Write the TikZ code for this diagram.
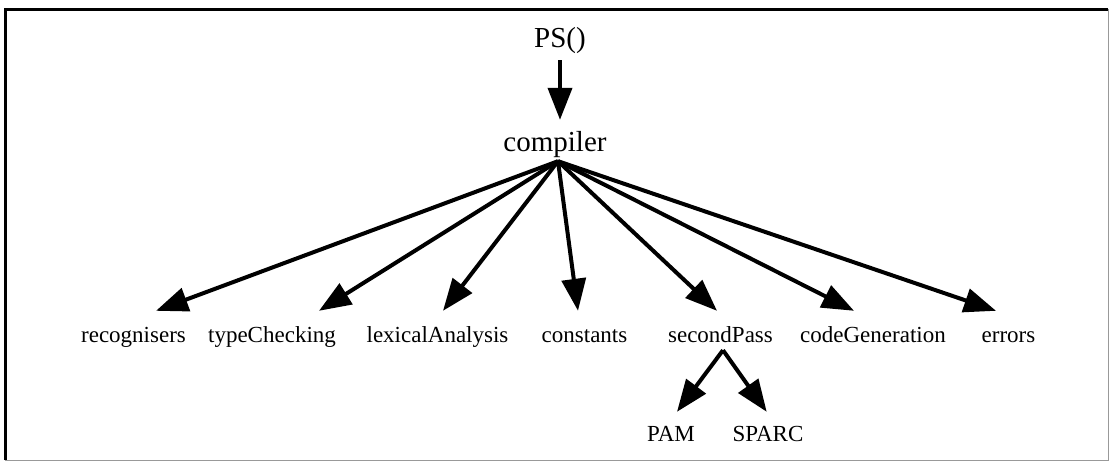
\documentclass[tikz,border=0pt]{standalone}
\usepackage{fontspec}
\setmainfont{Liberation Serif}
\usetikzlibrary{arrows.meta}
\begin{document}
\begin{tikzpicture}[x=1pt,y=-1pt,
  big/.style={font=\fontsize{29}{30}\selectfont, inner sep=0pt, text height=21pt, text depth=7pt, anchor=base},
  small/.style={font=\fontsize{23}{24}\selectfont, inner sep=0pt, text height=17pt, text depth=5pt, anchor=base},
  arr/.style={line width=4pt, -{Triangle[length=32pt,width=24pt]}},
  frameA/.style={line width=3pt, black},
  frameB/.style={line width=1pt, black!40}]
\useasboundingbox (0,0) rectangle (1111,462);
% frame
\draw[frameB] (5,10) -- (1108,10) -- (1108,460) -- (5,460);
\draw[frameA] (5,460) -- (5,10) -- (1108,10);
% nodes
\node[big] (ps) at (560,48) {PS()};
\node[big] (comp) at (555,152) {compiler};
\node[small] (rec) at (133.5,342) {recognisers};
\node[small] (tc) at (272,342) {typeChecking};
\node[small] (lex) at (437.5,342) {lexicalAnalysis};
\node[small] (con) at (584.5,342) {constants};
\node[small] (sp) at (720.5,342) {secondPass};
\node[small] (cg) at (873,342) {codeGeneration};
\node[small] (err) at (1008.5,342) {errors};
\node[small] (pam) at (671,441.7) {PAM};
\node[small] (sparc) at (768,441.7) {SPARC};
% hubs
\coordinate (chub) at ([xshift=3pt,yshift=-2pt]comp.south);
\coordinate (shub) at ([xshift=2.5pt,yshift=-3pt]sp.south);
% connectors
\draw[arr] ([yshift=-5pt]ps.south) -- ([xshift=5pt,yshift=11pt]comp.north);
\draw[arr] (chub) -- ([xshift=22.5pt,yshift=14pt]rec.north);
\draw[arr] (chub) -- ([xshift=47pt,yshift=14pt]tc.north);
\draw[arr] (chub) -- ([xshift=5.5pt,yshift=14pt]lex.north);
\draw[arr] (chub) -- ([xshift=-6.5pt,yshift=14pt]con.north);
\draw[arr] (chub) -- ([xshift=-3.5pt,yshift=14pt]sp.north);
\draw[arr] (chub) -- ([xshift=-19pt,yshift=14pt]cg.north);
\draw[arr] (chub) -- ([xshift=-12.5pt,yshift=14pt]err.north);
\draw[arr] (shub) -- ([xshift=6pt,yshift=12.7pt]pam.north);
\draw[arr] (shub) -- ([xshift=-1.3pt,yshift=12.7pt]sparc.north);
\end{tikzpicture}
\end{document}
